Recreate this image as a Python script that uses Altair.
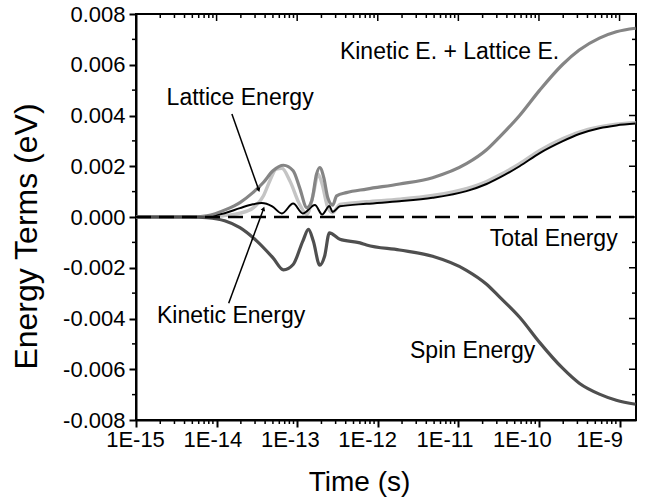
import altair as alt
import pandas as pd

# ---- data (time as log10 exponent of seconds, energy in meV)
kl_exp = [-15.00, -14.33, -14.12, -13.88, -13.71, -13.55, -13.42, -13.30, -13.17, -13.05,
          -12.97, -12.88, -12.82, -12.76, -12.72, -12.67, -12.62, -12.56, -12.51, -12.39,
          -12.14, -11.73, -11.32, -10.90, -10.65, -10.49, -10.24, -9.99, -9.71, -9.50,
          -9.25, -9.04, -8.80]
kl_val = [0.0, 0.0, 0.05, 0.30, 0.57, 0.96, 1.36, 1.82, 2.04, 1.82,
          1.16, 0.37, 0.63, 1.69, 1.95, 1.55, 0.76, 0.47, 0.83, 0.96,
          1.10, 1.30, 1.55, 2.10, 2.65, 3.15, 4.00, 5.00, 6.00, 6.58,
          7.05, 7.30, 7.44]

spin_exp = [-15.00, -14.33, -14.12, -13.90, -13.71, -13.50, -13.30, -13.17, -13.05, -12.93,
            -12.86, -12.80, -12.72, -12.66, -12.60, -12.56, -12.47, -12.22, -12.14, -11.73,
            -11.32, -10.90, -10.65, -10.49, -10.24, -9.99, -9.71, -9.50, -9.25, -9.04, -8.80]
spin_val = [0.0, 0.0, -0.03, -0.15, -0.42, -0.95, -1.61, -2.08, -1.87, -0.95,
            -0.49, -0.95, -1.90, -1.55, -0.62, -0.68, -0.88, -1.02, -1.10, -1.30,
            -1.55, -2.10, -2.65, -3.15, -3.95, -4.95, -5.95, -6.55, -6.98, -7.22, -7.38]

lat_exp = [-15.00, -14.21, -13.92, -13.71, -13.55, -13.42, -13.34, -13.26, -13.19, -13.09,
           -12.97, -12.88, -12.80, -12.74, -12.69, -12.62, -12.56, -12.47, -12.14, -11.73,
           -11.32, -10.90, -10.65, -10.49, -10.24, -9.99, -9.71, -9.50, -9.25, -9.04, -8.80]
lat_val = [0.0, 0.0, 0.05, 0.15, 0.35, 0.83, 1.42, 1.89, 1.92, 1.42,
           0.50, 0.10, 0.90, 1.69, 1.29, 0.37, 0.17, 0.50, 0.60, 0.70,
           0.85, 1.12, 1.40, 1.65, 2.10, 2.62, 3.08, 3.35, 3.55, 3.66, 3.72]

kin_exp = [-15.00, -14.27, -14.12, -13.90, -13.71, -13.55, -13.44, -13.31, -13.19, -13.05,
           -12.93, -12.78, -12.69, -12.60, -12.56, -12.47, -12.14, -11.73, -11.32, -10.90,
           -10.65, -10.49, -10.24, -9.99, -9.71, -9.50, -9.25, -9.04, -8.80]
kin_val = [0.0, 0.0, 0.03, 0.15, 0.35, 0.50, 0.55, 0.42, 0.14, 0.53,
           0.14, 0.47, 0.10, 0.43, 0.20, 0.42, 0.52, 0.62, 0.76, 1.02,
           1.30, 1.55, 2.00, 2.52, 2.98, 3.27, 3.50, 3.61, 3.68]

tot_exp = [-15.00, -8.80]
tot_val = [0.0, 0.0]

ann_text = ["Kinetic E. + Lattice E.", "Lattice Energy", "Kinetic Energy", "Total Energy", "Spin Energy"]
ann_exp = [-12.47, -14.62, -14.74, -10.61, -11.60]
ann_val = [6.21, 4.43, -4.19, -1.15, -5.57]

arrow_exp0 = [-13.81, -13.85]
arrow_val0 = [4.06, -3.40]
arrow_exp1 = [-13.48, -13.42]
arrow_val1 = [1.09, 0.30]
arrow_angle = [160, 20]

x_major = [1e-15, 1e-14, 1e-13, 1e-12, 1e-11, 1e-10, 1e-9]
x_minor = [k * m for m in x_major[:-1] for k in range(2, 10)]
y_major = [-0.008, -0.006, -0.004, -0.002, 0.0, 0.002, 0.004, 0.006, 0.008]
y_minor = [-0.007, -0.005, -0.003, -0.001, 0.001, 0.003, 0.005, 0.007]

W, H = 500, 406
FONT = "Liberation Sans"


def series(exps, vals):
    return pd.DataFrame({"t": [10 ** e for e in exps], "v": [v * 1e-3 for v in vals]})


X = alt.X(
    "t:Q",
    scale=alt.Scale(type="log", domain=[1e-15, 1.6e-9], nice=False),
    axis=alt.Axis(
        values=x_major,
        labelExpr="'1E-' + round(-log(datum.value) / LN10)",
        labelOffset={"expr": "-1 - 3.2 * (log(datum.value) / LN10 + 15)"},
        title="Time (s)",
        tickSize=7, tickWidth=2, tickColor="black",
        domainWidth=2, domainColor="black",
        labelFontSize=22, labelFont=FONT, labelColor="black", labelPadding=2,
        labelFlush=False, labelOverlap=False, grid=False,
        titleFontSize=28, titleFont=FONT, titleFontWeight="normal", titleColor="black",
        titleX=223, titleY=70, titleAlign="center", titleBaseline="alphabetic",
    ),
)
Y = alt.Y(
    "v:Q",
    scale=alt.Scale(domain=[-0.008, 0.008], nice=False, zero=False),
    axis=alt.Axis(
        values=y_major,
        labelExpr="(datum.value < 0 ? '-' : '') + format(abs(datum.value), '.3f')",
        title="Energy Terms (eV)",
        tickSize=7, tickWidth=2, tickColor="black",
        domainWidth=2, domainColor="black",
        labelFontSize=22, labelFont=FONT, labelColor="black", labelPadding=4,
        labelFlush=False, labelOverlap=False, grid=False,
        titleFontSize=32, titleFont=FONT, titleFontWeight="normal", titleColor="black",
        titleAngle=270, titleX=-110, titleY=222, titleAlign="center", titleBaseline="middle",
    ),
)


def line(exps, vals, color, width, dash=None):
    kw = dict(color=color, strokeWidth=width, interpolate="monotone")
    if dash:
        kw["strokeDash"] = dash
    return alt.Chart(series(exps, vals)).mark_line(**kw).encode(x=X, y=Y)


lat_line = line(lat_exp, lat_val, "#c4c4c4", 3.4)
kin_line = line(kin_exp, kin_val, "black", 2)
kl_line = line(kl_exp, kl_val, "#858585", 3.2)
spin_line = line(spin_exp, spin_val, "#4f4f4f", 3.2)
tot_line = line(tot_exp, tot_val, "black", 2.5, [15, 8])

ann = alt.Chart(series(ann_exp, ann_val).assign(label=ann_text)).mark_text(
    align="left", baseline="alphabetic", font=FONT, fontSize=23, color="black"
).encode(x=X, y=Y, text="label:N")

arrows_df = pd.DataFrame({
    "t": [10 ** e for e in arrow_exp0], "v": [v * 1e-3 for v in arrow_val0],
    "t2": [10 ** e for e in arrow_exp1], "v2": [v * 1e-3 for v in arrow_val1],
})
arrow_lines = alt.Chart(arrows_df).mark_rule(color="black", strokeWidth=1.5).encode(
    x=X, y=Y, x2="t2:Q", y2="v2:Q"
)
heads_df = series(arrow_exp1, arrow_val1).assign(ang=arrow_angle)
arrow_heads = alt.Chart(heads_df).mark_point(
    shape="triangle", filled=True, size=22, color="black", opacity=1
).encode(x=X, y=Y, angle=alt.Angle("ang:Q", scale=None))

xmaj = pd.DataFrame({"t": x_major})
xmin = pd.DataFrame({"t": x_minor})
ymaj = pd.DataFrame({"v": y_major})
ymin = pd.DataFrame({"v": y_minor})
tick = dict(color="black", strokeWidth=1.5)

bottom_minor = alt.Chart(xmin).mark_rule(**tick).encode(x=X, y=alt.value(H), y2=alt.value(H + 4))
top_major = alt.Chart(xmaj).mark_rule(**tick).encode(x=X, y=alt.value(0), y2=alt.value(7))
top_minor = alt.Chart(xmin).mark_rule(**tick).encode(x=X, y=alt.value(0), y2=alt.value(4))
left_minor = alt.Chart(ymin).mark_rule(**tick).encode(y=Y, x=alt.value(-4), x2=alt.value(0))
right_major = alt.Chart(ymaj).mark_rule(**tick).encode(y=Y, x=alt.value(W - 7), x2=alt.value(W))
right_minor = alt.Chart(ymin).mark_rule(**tick).encode(y=Y, x=alt.value(W - 4), x2=alt.value(W))

chart = alt.layer(
    lat_line, kin_line, kl_line, spin_line, tot_line,
    arrow_lines, arrow_heads, ann,
    bottom_minor, top_major, top_minor, left_minor, right_major, right_minor,
).properties(
    width=W, height=H,
    autosize=alt.AutoSizeParams(type="none"),
    padding={"left": 136, "top": 14, "right": 9, "bottom": 82},
    background="white",
).configure_view(
    stroke="black", strokeWidth=2
)

chart.save("out.html", embed_options={"renderer": "svg", "actions": False})
